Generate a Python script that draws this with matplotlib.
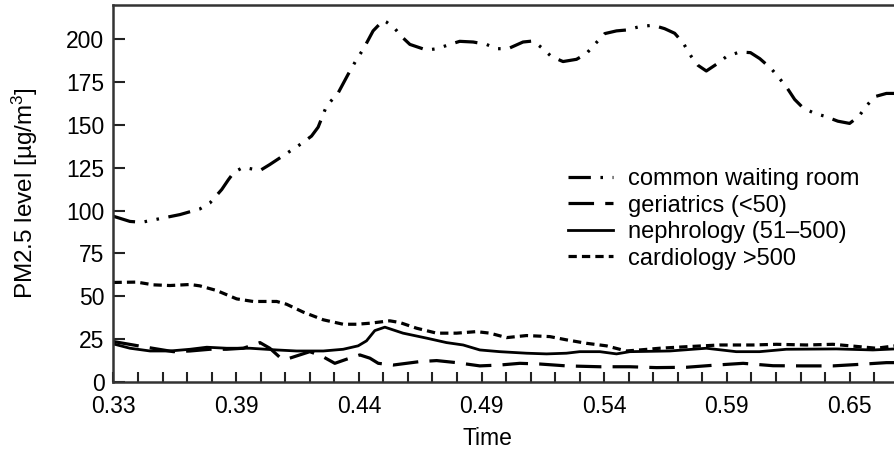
import matplotlib
matplotlib.use("Agg")
import matplotlib.pyplot as plt

# x positions in quarter-hour steps from the first labelled tick (0.33)
tick_labels = ['0.33', '0.39', '0.44', '0.49', '0.54', '0.59', '0.65']

common_x = [0, 0.67, 1.15, 2.02, 2.71, 3.52, 3.93, 4.41, 4.68, 4.91, 5.29, 5.97,
            6.37, 7.12, 7.67, 8.07, 8.34, 8.68, 9.16, 9.56, 9.91, 10.18, 10.58,
            10.99, 11.13, 11.47, 11.74, 12.08, 12.76, 13.19, 13.6, 14.11, 14.66,
            15.2, 15.61, 16.08, 16.69, 17.1, 17.44, 17.85, 18.32, 18.87, 19.27,
            19.61, 20.02, 20.5, 20.9, 21.45, 21.99, 22.46, 22.87, 23.21, 23.55,
            23.82, 24.16, 24.57, 24.98, 25.52, 25.96, 26.34, 26.81, 27.15, 27.42,
            27.76, 28.1, 28.58, 28.99, 29.52, 30.0, 30.38, 30.68, 31.02, 31.5, 31.85]
common_y = [96.7, 93.7, 93.2, 95.7, 97.7, 101, 104.5, 112.3, 118, 122.4, 125.3, 123.4,
            126.9, 134, 139.2, 143.5, 148.7, 161, 168.8, 179.5, 188.3, 194.2, 204.9,
            211, 210, 206.2, 201.6, 197, 193.7, 194.5, 196.5, 198.8, 198.4,
            197, 194.5, 194.5, 198.4, 199, 195.2, 189.9, 187, 188.3, 191.6,
            197, 203.3, 204.9, 205.4, 207.4, 208.2, 206.2, 203.5, 198, 189.9,
            184.8, 181.5, 185.4, 189.9, 192.6, 192.2, 188.7, 182.8, 177, 172.3,
            164.9, 160, 156.7, 155.1, 152.2, 150.9, 155.1, 161, 166.5, 168.4, 168.4]

geri_x = [0, 1.21, 1.76, 2.44, 3.12, 3.93, 4.61, 5.29, 5.97, 6.37, 6.78, 7.05, 7.46,
          8.0, 8.48, 9.02, 9.5, 10.04, 10.45, 10.79, 11.4, 12.48, 13.17, 13.98,
          14.93, 15.74, 16.56, 17.37, 18.46, 19.82, 21.04, 22.13, 23.35, 24.57,
          25.66, 26.88, 28.1, 29.32, 30.41, 31.5, 31.85]
geri_y = [23.6, 20.6, 19.3, 17.7, 18.1, 19.1, 19.1, 19.7, 23, 19.7, 14.4, 13.3, 15.2,
          17.7, 15.2, 10.9, 13.3, 15.8, 13.9, 10.9, 9.9, 11.9, 12.5, 11.3,
          9.4, 9.9, 10.9, 10.5, 9.4, 8.9, 8.9, 8.4, 8.6, 9.9,
          10.9, 9.5, 9.4, 9.4, 10.3, 11.3, 11.3]

neph_x = [0, 0.67, 1.49, 2.3, 3.12, 3.8, 4.61, 5.56, 6.65, 7.46, 8.55, 9.36, 9.97,
          10.31, 10.65, 11.06, 11.8, 12.76, 13.57, 14.25, 14.93, 15.74, 16.83,
          17.65, 18.46, 19.0, 19.82, 20.5, 21.04, 22.67, 24.16, 25.38, 26.33,
          27.42, 29.46, 30.95, 31.85]
neph_y = [22.2, 19.7, 18.1, 18.1, 19.1, 20.3, 19.7, 19.7, 18.7, 18.1, 18.1, 19.1, 21.1,
          24, 30, 32, 28.5, 25.6, 23, 21.6, 18.7, 17.7, 16.8,
          16.4, 16.8, 17.7, 17.7, 16.4, 17.7, 18.1, 19.7, 17.7, 17.7,
          19.1, 19.3, 18.7, 19.3]

cardio_x = [0, 0.95, 1.62, 2.3, 3.12, 3.52, 4.2, 5.02, 5.69, 6.65, 7.05, 7.73, 8.55,
            9.36, 9.91, 10.45, 11.26, 11.67, 12.35, 13.17, 13.98, 14.79, 15.34,
            16.02, 16.83, 17.78, 18.46, 19.27, 20.09, 20.9, 21.45, 22.26, 23.35,
            24.7, 26.06, 27.01, 28.24, 29.32, 30.41, 31.09, 31.85]
cardio_y = [58.1, 58.3, 56.7, 56.3, 56.9, 56.1, 53.4, 48.5, 47, 47, 45.4, 40.8, 36.3,
            33.7, 33.7, 34.3, 35.7, 34.7, 31.4, 28.5, 28.5, 29.4, 28.5,
            25.9, 27.1, 26.5, 24.6, 22.6, 21.1, 18.1, 18.7, 19.7, 20.6,
            21.6, 21.6, 22, 21.6, 22, 20.6, 19.7, 21.1]

plt.rcParams['font.family'] = ['Liberation Sans', 'DejaVu Sans']
plt.rcParams['mathtext.fontset'] = 'custom'
plt.rcParams['mathtext.rm'] = 'Liberation Sans'
plt.rcParams['mathtext.it'] = 'Liberation Sans'

fs = 16.5
fig = plt.figure(figsize=(8.95, 4.51), dpi=100)
ax = fig.add_axes([113.5 / 895, 1 - 382 / 451, (895 - 113.5) / 895, 377 / 451])

ax.plot(common_x, common_y, color='black', lw=2.3,
        linestyle=(0, (7, 3, 0.8, 3, 0.8, 3)), label='common waiting room')
ax.plot(geri_x, geri_y, color='black', lw=2.3,
        linestyle=(0, (8, 3.5)), label='geriatrics (<50)')
ax.plot(neph_x, neph_y, color='black', lw=2.0, label='nephrology (51–500)')
ax.plot(cardio_x, cardio_y, color='black', lw=2.3,
        linestyle=(0, (2.6, 1.6)), label='cardiology >500')

ax.set_xlim(0, 31.85)
ax.set_ylim(0, 220)
ax.set_xticks(range(0, 32))
ax.set_xticklabels([tick_labels[i // 5] if i % 5 == 0 else '' for i in range(32)])
ax.set_yticks(range(0, 201, 25))

ax.tick_params(axis='both', direction='in', labelsize=fs, width=1.5, color='#222222')
ax.tick_params(axis='x', length=7.5, pad=9.5)
ax.tick_params(axis='y', length=8.5, pad=6.5)

for side in ['left', 'top', 'bottom']:
    ax.spines[side].set_linewidth(1.8)
    ax.spines[side].set_color('#333333')
ax.spines['right'].set_visible(False)

ax.set_xlabel('Time', fontsize=fs)
ax.set_ylabel(r'PM2.5 level [µg/m$^{3}$]', fontsize=17.5)
ax.xaxis.set_label_coords(0.478, -0.12)
ax.yaxis.set_label_coords(-0.094, 0.5)

ax.legend(loc='upper left', bbox_to_anchor=(0.611, 0.674), bbox_transform=fig.transFigure,
          frameon=False, fontsize=17, handlelength=1.9, handletextpad=0.64,
          labelspacing=0.19, borderpad=0.4)

fig.savefig('out.png', dpi=100)
